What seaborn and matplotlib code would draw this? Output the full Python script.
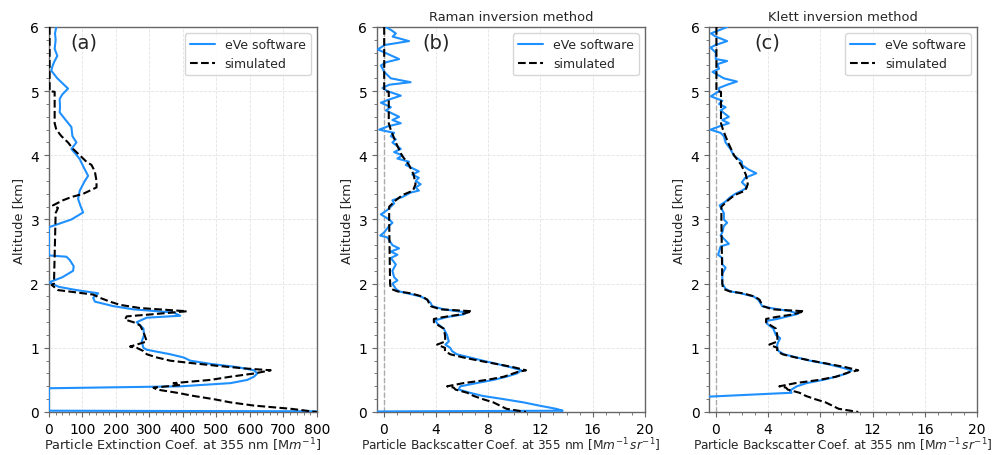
import numpy as np
import pandas as pd
import matplotlib
matplotlib.use("Agg")
import matplotlib.pyplot as plt
from matplotlib.ticker import AutoMinorLocator, MultipleLocator
import seaborn as sns

# ---------------- data ----------------
# (a) extinction, eVe software
alt_a_eve = [6.00, 5.90, 5.80, 5.66, 5.55, 5.45, 5.38, 5.32, 5.20, 5.10, 5.04, 4.95, 4.88, 4.75,
             4.67, 4.55, 4.44, 4.30, 4.20, 4.10, 4.02, 3.94, 3.80, 3.68, 3.60, 3.45, 3.32, 3.20,
             3.11, 3.00, 2.88, 2.44, 2.42, 2.37, 2.27, 2.20, 2.10, 2.02, 1.95, 1.90, 1.85, 1.78,
             1.72, 1.65, 1.60, 1.55, 1.50, 1.47, 1.40, 1.30, 1.20, 1.10, 1.00, 0.97, 0.90, 0.85,
             0.80, 0.75, 0.70, 0.65, 0.60, 0.55, 0.50, 0.45, 0.40, 0.37, 0.02, 0.01]
ext_a_eve = [22, 18, 20, 17, 25, 15, 10, 7, 25, 45, 57, 40, 32, 33,
             32, 50, 67, 70, 82, 67, 80, 92, 105, 117, 107, 92, 87, 95,
             102, 67, 0, 0, 52, 62, 74, 72, 40, 0, 30, 82, 147, 132,
             137, 192, 252, 372, 392, 292, 262, 282, 284, 277, 282, 292, 362, 402,
             422, 482, 562, 612, 622, 612, 592, 542, 392, 0, 0, 850]

# (a) extinction, simulated
alt_a_sim = [6.0, 5.0, 4.99, 4.5, 4.4, 4.3, 4.2, 4.1, 4.0, 3.9, 3.85, 3.75, 3.6, 3.5, 3.45, 3.4,
             3.35, 3.3, 3.22, 3.18, 3.1, 2.0, 1.98, 1.9, 1.87, 1.83, 1.78, 1.72, 1.67, 1.62, 1.57,
             1.52, 1.49, 1.44, 1.40, 1.35, 1.25, 1.10, 1.05, 1.02, 1.00, 0.95, 0.90, 0.85, 0.80,
             0.77, 0.72, 0.68, 0.65, 0.62, 0.60, 0.55, 0.50, 0.45, 0.42, 0.38, 0.35, 0.30, 0.25,
             0.20, 0.15, 0.10, 0.05, 0.0]
ext_a_sim = [2, 2, 17, 17, 22, 37, 57, 72, 92, 112, 127, 137, 142, 142, 122, 102,
             67, 42, 12, 27, 20, 15, 8, 27, 72, 132, 152, 182, 212, 272, 412,
             302, 232, 227, 252, 272, 282, 292, 262, 242, 262, 282, 292, 322, 362,
             412, 502, 582, 662, 632, 612, 542, 482, 372, 392, 312, 322, 382, 432,
             492, 542, 612, 722, 800]

# (b),(c) backscatter, simulated
alt_bsc_sim = [6.0, 5.0, 4.99, 4.5, 4.4, 4.2, 4.0, 3.85, 3.7, 3.55, 3.45, 3.38, 3.3, 3.2, 3.0,
               2.0, 1.92, 1.88, 1.85, 1.80, 1.75, 1.70, 1.65, 1.60, 1.57, 1.52, 1.48, 1.45, 1.40,
               1.35, 1.30, 1.20, 1.10, 1.05, 1.00, 0.95, 0.90, 0.85, 0.80, 0.75, 0.70, 0.65, 0.62,
               0.55, 0.50, 0.45, 0.40, 0.38, 0.35, 0.30, 0.25, 0.20, 0.15, 0.10, 0.05, 0.0]
bsc_sim = [0.05, 0.05, 0.4, 0.4, 0.55, 0.94, 1.4, 1.95, 2.3, 2.45, 2.25, 1.44, 0.94, 0.43, 0.43,
           0.5, 0.56, 1.06, 2.07, 2.96, 3.35, 3.47, 3.6, 4.35, 6.76, 5.9, 4.6, 3.85, 3.85,
           4.2, 4.6, 4.7, 4.73, 4.1, 4.7, 4.7, 5.1, 6.1, 7.3, 8.6, 9.9, 10.9, 10.2,
           9.2, 7.9, 6.1, 4.86, 5.37, 5.5, 6.4, 6.9, 7.6, 8.4, 8.9, 9.4, 10.9]

# (b) backscatter, eVe Raman
alt_b_eve = [6.0, 5.95, 5.9, 5.85, 5.78, 5.72, 5.65, 5.6, 5.5, 5.45,
             5.4, 5.3, 5.2, 5.14, 5.1, 5.05, 5.0, 4.93, 4.87, 4.82,
             4.75, 4.7, 4.6, 4.55, 4.5, 4.45, 4.4, 4.35, 4.3, 4.25,
             4.2, 4.1, 4.05, 4.0, 3.95, 3.9, 3.85, 3.75, 3.7, 3.65,
             3.6, 3.55, 3.5, 3.45, 3.42, 3.35, 3.3, 3.25, 3.15, 3.08,
             3.0, 2.95, 2.9, 2.8, 2.75, 2.72, 2.6, 2.55, 2.5, 2.45,
             2.4, 2.3, 2.2, 2.1, 2.05, 2.0, 1.92, 1.88, 1.85, 1.8,
             1.75, 1.7, 1.65, 1.6, 1.55, 1.52, 1.48, 1.43, 1.38, 1.3,
             1.2, 1.1, 1.05, 1.0, 0.95, 0.9, 0.85, 0.8, 0.75, 0.7,
             0.65, 0.6, 0.55, 0.5, 0.45, 0.4, 0.35, 0.3, 0.25, 0.2,
             0.15, 0.1, 0.05, 0.02, 0.008]
bsc_b_eve = [0.18, 0.6, 0.94, 0.7, 1.95, 0.1, -0.45, 0.1, 1.19, 0.18,
             -0.2, 0.05, 0.56, 2.07, 0.43, -0.08, 0.3, 1.32, 0.43, -0.2,
             0.56, 0.18, 1.19, 0.68, 1.32, 0.3, -0.33, 0.81, 0.56, 0.94,
             0.68, 1.32, 0.81, 1.44, 1.06, 1.95, 1.7, 2.7, 2.2, 2.7,
             2.46, 2.84, 2.46, 2.7, 2.07, 1.44, 0.68, 0.81, 0.3, -0.2,
             0.43, 0.68, 0.43, 0.05, -0.25, 0.3, 0.68, 1.19, 0.56, 1.06,
             0.56, 0.94, 0.68, 0.81, 1.06, 0.68, 0.94, 1.19, 1.82, 2.84,
             3.34, 3.6, 3.72, 4.6, 6.4, 6.1, 4.86, 3.97, 4.1, 4.6,
             4.86, 4.99, 4.73, 5.1, 5.24, 5.6, 6.6, 7.6, 8.66, 9.67,
             10.55, 10.2, 9.4, 8.4, 7.1, 5.87, 5.75, 6.6, 7.6, 9.2,
             10.7, 11.9, 13.2, 13.7, -1.0]

# (c) backscatter, eVe Klett
alt_c_eve = [6.0, 5.95, 5.9, 5.85, 5.78, 5.72, 5.68, 5.6, 5.5, 5.47,
             5.42, 5.35, 5.3, 5.2, 5.15, 5.1, 5.05, 5.0, 4.92, 4.85,
             4.8, 4.75, 4.7, 4.6, 4.55, 4.5, 4.45, 4.4, 4.35, 4.3,
             4.2, 4.1, 4.0, 3.9, 3.85, 3.78, 3.72, 3.65, 3.58, 3.5,
             3.45, 3.4, 3.35, 3.28, 3.22, 3.1, 3.0, 2.95, 2.9, 2.8,
             2.75, 2.7, 2.62, 2.58, 2.5, 2.45, 2.4, 2.3, 2.25, 2.15,
             2.0, 1.92, 1.88, 1.85, 1.8, 1.75, 1.7, 1.65, 1.62, 1.57,
             1.53, 1.5, 1.45, 1.42, 1.38, 1.3, 1.2, 1.15, 1.1, 1.05,
             1.0, 0.95, 0.9, 0.85, 0.8, 0.75, 0.7, 0.65, 0.6, 0.55,
             0.5, 0.45, 0.4, 0.35, 0.32, 0.3, 0.235]
bsc_c_eve = [0.87, 0.25, -0.37, 0.0, 0.87, 0.0, -0.4, 0.0, 0.0, 0.87,
             0.12, 0.25, -0.25, 0.62, 1.62, 0.87, 0.25, 0.25, -0.37, 0.5,
             0.25, 0.75, 0.37, 1.0, 0.5, 1.0, 0.25, -0.4, 0.37, 0.62,
             0.75, 1.12, 1.37, 2.0, 2.0, 2.5, 3.1, 2.25, 2.0, 2.4,
             2.0, 1.5, 1.12, 0.75, 0.3, 0.62, 0.62, 0.87, 0.62, 0.5,
             0.37, 0.62, 1.0, 0.37, 0.25, 0.18, 0.5, 0.5, 0.75, 0.5,
             0.5, 0.75, 1.12, 1.9, 2.9, 3.25, 3.4, 3.55, 4.2, 5.7,
             6.3, 5.7, 4.7, 3.9, 3.9, 4.4, 4.6, 4.93, 4.8, 4.7,
             4.7, 4.8, 5.2, 6.2, 7.2, 8.5, 9.5, 10.4, 10.0, 9.2,
             8.2, 6.95, 6.2, 5.8, 5.7, 5.8, -1.0]

panel_labels = ["(a)", "(b)", "(c)"]
titles = ["", "Raman inversion method", "Klett inversion method"]
series_names = ["eVe software", "simulated"]
xlabel_ext = r"Particle Extinction Coef. at 355 nm [M$m^{-1}$]"
xlabel_bsc = r"Particle Backscatter Coef. at 355 nm [M$m^{-1}\,sr^{-1}$]"

# ---------------- style ----------------
sns.set_theme(style="ticks")
plt.rcParams["font.family"] = ["DejaVu Sans"]
plt.rcParams.update({
    "font.size": 10, "axes.labelsize": 9.3, "xtick.labelsize": 10, "ytick.labelsize": 10,
    "legend.fontsize": 9, "axes.edgecolor": "#666666", "axes.linewidth": 1.0,
    "xtick.color": "#666666", "ytick.color": "#666666",
    "xtick.labelcolor": "black", "ytick.labelcolor": "black",
})

BLUE = "#1E90FF"
fig = plt.figure(figsize=(9.95, 4.56), dpi=100)
positions = [[0.0492, 0.0943, 0.2693, 0.8443],
             [0.3789, 0.0943, 0.2693, 0.8443],
             [0.7128, 0.0943, 0.2693, 0.8443]]
axes = [fig.add_axes(p) for p in positions]

panels = [
    (alt_a_eve, ext_a_eve, alt_a_sim, ext_a_sim),
    (alt_b_eve, bsc_b_eve, alt_bsc_sim, bsc_sim),
    (alt_c_eve, bsc_c_eve, alt_bsc_sim, bsc_sim),
]

for i, (ax, (ae, ve, asim, vsim)) in enumerate(zip(axes, panels)):
    if i > 0:
        ax.axvline(0, color="#aaaaaa", ls="--", lw=1.0, zorder=1)
    df_e = pd.DataFrame({"x": ve, "alt": ae})
    df_s = pd.DataFrame({"x": vsim, "alt": asim})
    sns.lineplot(data=df_e, x="x", y="alt", sort=False, estimator=None, ax=ax,
                 color=BLUE, lw=1.5, label=series_names[0], zorder=3)
    sns.lineplot(data=df_s, x="x", y="alt", sort=False, estimator=None, ax=ax,
                 color="black", lw=1.5, ls="--", label=series_names[1], zorder=4)
    ax.set_ylim(0, 6)
    ax.yaxis.set_major_locator(MultipleLocator(1))
    if i == 0:
        ax.set_xlim(0, 800)
        ax.xaxis.set_major_locator(MultipleLocator(100))
        ax.set_xlabel(xlabel_ext, labelpad=0)
    else:
        ax.set_xlim(-0.5, 20)
        ax.xaxis.set_major_locator(MultipleLocator(4))
        ax.set_xlabel(xlabel_bsc, labelpad=0, fontsize=8.7)
    ax.xaxis.set_minor_locator(AutoMinorLocator())
    ax.yaxis.set_minor_locator(AutoMinorLocator())
    ax.tick_params(which="major", length=3.5, width=0.8)
    ax.tick_params(which="minor", length=2, width=0.6)
    ax.grid(True, which="major", ls="--", lw=0.6, color="#e3e3e3")
    ax.set_axisbelow(True)
    ax.set_ylabel("Altitude [km]", fontsize=9.4)
    if titles[i]:
        ax.set_title(titles[i], fontsize=9.4, pad=5)
    xt = 0.08 if i == 0 else 0.17
    ax.text(xt, 0.96, panel_labels[i], transform=ax.transAxes, fontsize=14,
            ha="left", va="center")
    ax.legend(loc="upper right", frameon=True, fancybox=True, framealpha=0.8,
              edgecolor="#cccccc")

fig.savefig("out.png", dpi=100)
